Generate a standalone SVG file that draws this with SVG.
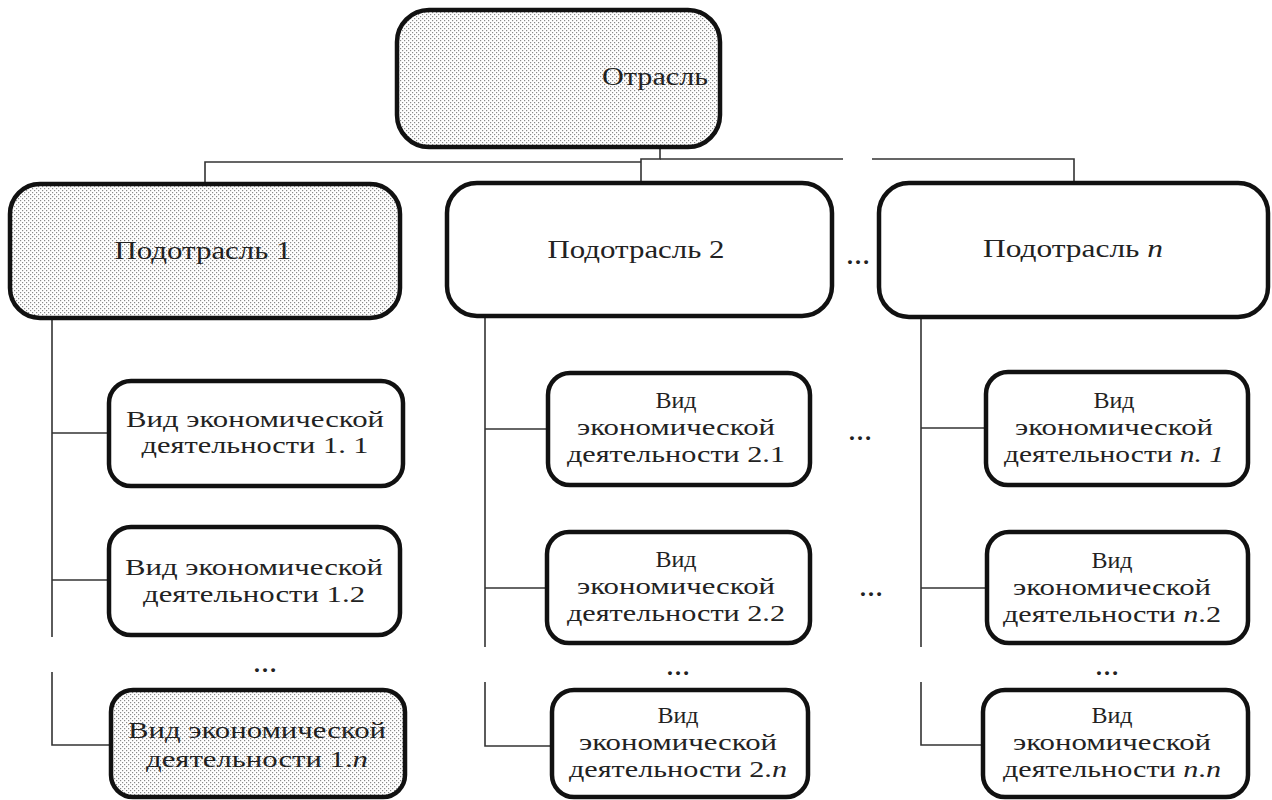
<svg xmlns="http://www.w3.org/2000/svg" width="1272" height="800" viewBox="0 0 1272 800">
  <defs>
    <pattern id="dots" width="4" height="4" patternUnits="userSpaceOnUse">
      <rect width="4" height="4" fill="#ffffff"/>
      <rect x="0" y="0" width="1.2" height="1.2" fill="#8a8a8a"/>
      <rect x="2" y="2" width="1.2" height="1.2" fill="#8a8a8a"/>
    </pattern>
  </defs>
  <style>
    .box { fill: #ffffff; stroke: #111111; stroke-width: 4.5; }
    .shaded { fill: url(#dots); }
    .link { fill: none; stroke: #333333; stroke-width: 1.6; }
    text { font-family: 'Liberation Serif', 'DejaVu Serif', serif; font-size: 24px; fill: #222222; text-anchor: middle; }
    .big { font-size: 26px; }
    .it { font-style: italic; }
    .dots { font-size: 24px; font-weight: bold; }
  </style>
  <rect width="1272" height="800" fill="#ffffff"/>

  <!-- connectors -->
  <g id="connectors">
    <!-- trunk from the top box -->
    <path class="link" d="M660 147 V159 H641 V183"/>
    <path class="link" d="M641 162 H205 V184"/>
    <path class="link" d="M660 159 H843"/>
    <path class="link" d="M872 159 H1074 V183"/>
    <!-- column 1 -->
    <path class="link" d="M52 318 V637"/>
    <path class="link" d="M52 672 V745 H111"/>
    <path class="link" d="M52 433 H109"/>
    <path class="link" d="M52 580 H109"/>
    <!-- column 2 -->
    <path class="link" d="M485 316 V647"/>
    <path class="link" d="M485 682 V746 H552"/>
    <path class="link" d="M485 429 H548"/>
    <path class="link" d="M485 588 H547"/>
    <!-- column 3 -->
    <path class="link" d="M921 317 V647"/>
    <path class="link" d="M921 682 V745 H983"/>
    <path class="link" d="M921 428 H986"/>
    <path class="link" d="M921 588 H987"/>
  </g>

  <!-- top level -->
  <g id="industry">
    <rect class="box shaded" x="397" y="10" width="323" height="137" rx="32"/>
    <text class="big" x="655" y="85" textLength="106" lengthAdjust="spacingAndGlyphs">Отрасль</text>
  </g>

  <!-- sub-industries -->
  <g id="sub1">
    <rect class="box shaded" x="10" y="184" width="390" height="134" rx="30"/>
    <text class="big" x="203" y="259" textLength="177" lengthAdjust="spacingAndGlyphs">Подотрасль 1</text>
  </g>
  <g id="sub2">
    <rect class="box" x="447" y="183" width="385" height="133" rx="30"/>
    <text class="big" x="636" y="258" textLength="177" lengthAdjust="spacingAndGlyphs">Подотрасль 2</text>
  </g>
  <g id="subn">
    <rect class="box" x="879" y="183" width="389" height="134" rx="30"/>
    <text class="big" x="1073" y="257" textLength="180" lengthAdjust="spacingAndGlyphs">Подотрасль <tspan class="it">n</tspan></text>
  </g>

  <!-- column 1 activities -->
  <g id="act11">
    <rect class="box" x="109" y="381" width="294" height="105" rx="22"/>
    <text x="255" y="427" textLength="258" lengthAdjust="spacingAndGlyphs">Вид экономической</text>
    <text x="255" y="453" textLength="227" lengthAdjust="spacingAndGlyphs">деятельности 1. 1</text>
  </g>
  <g id="act12">
    <rect class="box" x="109" y="527" width="291" height="108" rx="22"/>
    <text x="254" y="575" textLength="258" lengthAdjust="spacingAndGlyphs">Вид экономической</text>
    <text x="254" y="602" textLength="222" lengthAdjust="spacingAndGlyphs">деятельности 1.2</text>
  </g>
  <g id="act1n">
    <rect class="box shaded" x="111" y="690" width="294" height="107" rx="22"/>
    <text x="257" y="738" textLength="258" lengthAdjust="spacingAndGlyphs">Вид экономической</text>
    <text x="257" y="767" textLength="222" lengthAdjust="spacingAndGlyphs">деятельности 1.<tspan class="it">n</tspan></text>
  </g>

  <!-- column 2 activities -->
  <g id="act21">
    <rect class="box" x="548" y="373" width="262" height="112" rx="22"/>
    <text x="676" y="408">Вид</text>
    <text x="676" y="435" textLength="198" lengthAdjust="spacingAndGlyphs">экономической</text>
    <text x="676" y="462" textLength="218" lengthAdjust="spacingAndGlyphs">деятельности 2.1</text>
  </g>
  <g id="act22">
    <rect class="box" x="547" y="532" width="263" height="111" rx="22"/>
    <text x="676" y="567">Вид</text>
    <text x="676" y="594" textLength="198" lengthAdjust="spacingAndGlyphs">экономической</text>
    <text x="676" y="621" textLength="218" lengthAdjust="spacingAndGlyphs">деятельности 2.2</text>
  </g>
  <g id="act2n">
    <rect class="box" x="552" y="690" width="256" height="107" rx="22"/>
    <text x="678" y="723">Вид</text>
    <text x="678" y="750" textLength="198" lengthAdjust="spacingAndGlyphs">экономической</text>
    <text x="678" y="777" textLength="218" lengthAdjust="spacingAndGlyphs">деятельности 2.<tspan class="it">n</tspan></text>
  </g>

  <!-- column n activities -->
  <g id="actn1">
    <rect class="box" x="986" y="372" width="262" height="113" rx="22"/>
    <text x="1114" y="408">Вид</text>
    <text x="1114" y="435" textLength="198" lengthAdjust="spacingAndGlyphs">экономической</text>
    <text x="1114" y="462" textLength="220" lengthAdjust="spacingAndGlyphs">деятельности <tspan class="it">n. 1</tspan></text>
  </g>
  <g id="actn2">
    <rect class="box" x="987" y="532" width="261" height="111" rx="22"/>
    <text x="1112" y="568">Вид</text>
    <text x="1112" y="595" textLength="198" lengthAdjust="spacingAndGlyphs">экономической</text>
    <text x="1112" y="622" textLength="218" lengthAdjust="spacingAndGlyphs">деятельности <tspan class="it">n</tspan>.2</text>
  </g>
  <g id="actnn">
    <rect class="box" x="983" y="690" width="265" height="107" rx="22"/>
    <text x="1112" y="723">Вид</text>
    <text x="1112" y="750" textLength="198" lengthAdjust="spacingAndGlyphs">экономической</text>
    <text x="1112" y="777" textLength="218" lengthAdjust="spacingAndGlyphs">деятельности <tspan class="it">n</tspan>.<tspan class="it">n</tspan></text>
  </g>

  <!-- ellipses -->
  <g id="ellipses">
    <text class="dots" x="858" y="264">…</text>
    <text class="dots" x="860" y="440">…</text>
    <text class="dots" x="871" y="596">…</text>
    <text class="dots" x="265" y="672">…</text>
    <text class="dots" x="678" y="675">…</text>
    <text class="dots" x="1107" y="675">…</text>
  </g>
</svg>
